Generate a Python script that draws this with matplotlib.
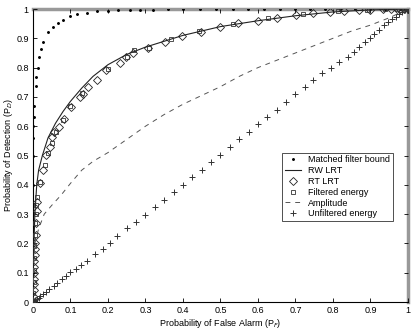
import numpy as np
import matplotlib
matplotlib.use("Agg")
import matplotlib.pyplot as plt
from matplotlib.ticker import FuncFormatter

plt.rcParams['font.family'] = ['Liberation Sans', 'DejaVu Sans']

# Matched filter bound (dots)
mf_x = [0, 0, 0, 0, 0, 0, 0.001, 0.001, 0.002, 0.003, 0.007, 0.007, 0.013, 0.017, 0.022, 0.028,
        0.041, 0.054, 0.067, 0.079, 0.10, 0.118, 0.143, 0.17, 0.2, 0.228, 0.26, 0.285,
        0.32, 0.36, 0.40, 0.445, 0.488, 0.533, 0.573, 0.615, 0.66, 0.70, 0.74, 0.78,
        0.82, 0.86, 0.90, 0.94, 0.98, 1.0]
mf_y = [0.0, 0.1, 0.2, 0.3, 0.4, 0.5, 0.56, 0.6, 0.63, 0.67, 0.737, 0.767, 0.80, 0.837, 0.862, 0.887,
        0.923, 0.937, 0.951, 0.962, 0.977, 0.983, 0.987, 0.992, 0.994, 0.996, 0.997, 0.998,
        0.998, 0.999, 0.999, 0.999, 1.0, 1.0, 1.0, 1.0, 1.0, 1.0, 1.0, 1.0,
        1.0, 1.0, 1.0, 1.0, 1.0, 1.0]

# RW LRT (solid line)
rw_x = [0, 0.001, 0.003, 0.005, 0.01, 0.015, 0.025, 0.04, 0.06, 0.08, 0.1, 0.13, 0.16, 0.2,
        0.25, 0.3, 0.35, 0.4, 0.5, 0.6, 0.7, 0.8, 0.9, 1.0]
rw_y = [0, 0.12, 0.22, 0.3, 0.4, 0.45, 0.5, 0.56, 0.61, 0.65, 0.685, 0.73, 0.77, 0.81,
        0.845, 0.87, 0.89, 0.91, 0.94, 0.96, 0.977, 0.99, 0.997, 1.0]

# RT LRT (diamonds)
rt_x = [0, 0.001, 0.002, 0.002, 0.003, 0.003, 0.004, 0.004, 0.005, 0.005, 0.006, 0.007, 0.008,
        0.01, 0.012, 0.019, 0.028, 0.035, 0.045, 0.05, 0.057, 0.07, 0.083, 0.101, 0.125,
        0.134, 0.147, 0.17, 0.196, 0.232, 0.248, 0.267, 0.308, 0.352, 0.398, 0.448, 0.499,
        0.547, 0.599, 0.652, 0.701, 0.747, 0.792, 0.83, 0.869, 0.898, 0.934, 0.955, 0.97,
        0.98, 0.99, 1.0]
rt_y = [0, 0.02, 0.04, 0.06, 0.08, 0.1, 0.12, 0.14, 0.16, 0.18, 0.2, 0.23, 0.27,
        0.31, 0.342, 0.405, 0.45, 0.502, 0.53, 0.564, 0.581, 0.598, 0.623, 0.667, 0.699,
        0.71, 0.733, 0.758, 0.792, 0.815, 0.837, 0.851, 0.866, 0.888, 0.908, 0.92, 0.937,
        0.951, 0.959, 0.97, 0.979, 0.985, 0.991, 0.994, 0.997, 0.998, 0.999, 1.0, 1.0,
        1.0, 1.0, 1.0]

# Filtered energy (squares)
fe_x = [0, 0.001, 0.002, 0.003, 0.003, 0.004, 0.005, 0.006, 0.007, 0.009, 0.012, 0.02,
        0.032, 0.041, 0.05, 0.061, 0.081, 0.1, 0.13, 0.2, 0.25, 0.27, 0.31, 0.368, 0.443,
        0.534, 0.626, 0.721, 0.814, 0.89, 0.94, 0.97, 0.99, 1.0]
fe_y = [0, 0.03, 0.07, 0.11, 0.15, 0.19, 0.23, 0.27, 0.3, 0.33, 0.36, 0.41,
        0.468, 0.507, 0.544, 0.581, 0.621, 0.669, 0.712, 0.795, 0.837, 0.86, 0.866, 0.897, 0.926,
        0.949, 0.968, 0.982, 0.993, 0.997, 0.999, 1.0, 1.0, 1.0]

# Amplitude (dashed)
am_x = [0, 0.002, 0.005, 0.015, 0.03, 0.05, 0.075, 0.1, 0.13, 0.16, 0.2, 0.25, 0.3, 0.35,
        0.4, 0.45, 0.5, 0.55, 0.6, 0.65, 0.7, 0.75, 0.8, 0.85, 0.9, 0.95, 1.0]
am_y = [0, 0.12, 0.2, 0.25, 0.3, 0.33, 0.365, 0.405, 0.45, 0.48, 0.51, 0.555, 0.6, 0.64,
        0.675, 0.705, 0.735, 0.77, 0.8, 0.825, 0.85, 0.875, 0.9, 0.925, 0.945, 0.97, 1.0]

# Unfiltered energy (+)
ue_x = [0, 0.003, 0.006, 0.01, 0.015, 0.02, 0.027, 0.034, 0.044, 0.055, 0.065, 0.078, 0.088,
        0.1, 0.116, 0.128, 0.145, 0.165, 0.186, 0.205, 0.225, 0.25, 0.275, 0.299, 0.325,
        0.35, 0.375, 0.4, 0.425, 0.45, 0.475, 0.5, 0.525, 0.55, 0.575, 0.6, 0.625, 0.65,
        0.675, 0.699, 0.725, 0.747, 0.771, 0.795, 0.816, 0.84, 0.857, 0.869, 0.885, 0.898,
        0.91, 0.924, 0.936, 0.947, 0.958, 0.968, 0.977, 0.985, 0.992, 0.997, 1.0]
ue_y = [0, 0.003, 0.006, 0.01, 0.015, 0.02, 0.027, 0.034, 0.045, 0.055, 0.066, 0.08, 0.089,
        0.101, 0.111, 0.126, 0.141, 0.163, 0.18, 0.2, 0.225, 0.251, 0.274, 0.297, 0.323,
        0.349, 0.375, 0.4, 0.426, 0.452, 0.478, 0.503, 0.529, 0.555, 0.58, 0.606, 0.632, 0.657,
        0.683, 0.709, 0.733, 0.758, 0.783, 0.8, 0.82, 0.837, 0.854, 0.871, 0.886, 0.9,
        0.915, 0.93, 0.945, 0.955, 0.965, 0.974, 0.982, 0.989, 0.995, 0.998, 1.0]

ticks = [0, 0.1, 0.2, 0.3, 0.4, 0.5, 0.6, 0.7, 0.8, 0.9, 1]

fig = plt.figure(figsize=(4.15, 3.29), dpi=100)
ax = fig.add_axes([0.0795, 0.082, 0.9035, 0.8906])

ax.plot(mf_x, mf_y, linestyle='none', marker='.', color='black', markersize=2.2,
        label='Matched filter bound')
ax.plot(rw_x, rw_y, color='#222222', lw=0.8, label='RW LRT')
ax.plot(rt_x, rt_y, linestyle='none', marker='D', color='#222222', markersize=3.6,
        markerfacecolor='none', markeredgewidth=0.6, label='RT LRT')
ax.plot(fe_x, fe_y, linestyle='none', marker='s', color='#333333', markersize=3.3,
        markerfacecolor='none', markeredgewidth=0.6, label='Filtered energy')
ax.plot(am_x, am_y, color='#555555', lw=0.7, linestyle=(0, (5, 5)), label='Amplitude')
ax.plot(ue_x, ue_y, linestyle='none', marker='+', color='#333333', markersize=5,
        markeredgewidth=0.7, label='Unfiltered energy')

ax.set_xlim(0, 1)
ax.set_ylim(0, 1)
ax.set_xticks(ticks)
ax.set_yticks(ticks)
fmt = FuncFormatter(lambda v, p: '%g' % v)
ax.xaxis.set_major_formatter(fmt)
ax.yaxis.set_major_formatter(fmt)
ax.tick_params(direction='in', top=True, right=True, labelsize=6.5, length=3, width=0.6, pad=3)

ax.spines['left'].set_linewidth(0.8)
ax.spines['bottom'].set_linewidth(0.8)
ax.spines['top'].set_color('#999999')
ax.spines['right'].set_color('#999999')
ax.spines['top'].set_linewidth(2.5)
ax.spines['right'].set_linewidth(2.5)
for s in ax.spines.values():
    s.set_zorder(0.5)

ax.set_xlabel('Probability of False Alarm (P$_{F}$)', fontsize=6.5, labelpad=1)
ax.set_ylabel('Probability of Detection (P$_{D}$)', fontsize=6.5, labelpad=1)

leg = ax.legend(loc='lower right', bbox_to_anchor=(0.96, 0.276), fontsize=6.5,
                frameon=True, fancybox=False, edgecolor='#333333', framealpha=1,
                handlelength=1.8, handletextpad=0.8, labelspacing=0.2, borderpad=0.3,
                borderaxespad=0)
leg.get_frame().set_linewidth(0.6)

fig.savefig('out.png', dpi=100)
